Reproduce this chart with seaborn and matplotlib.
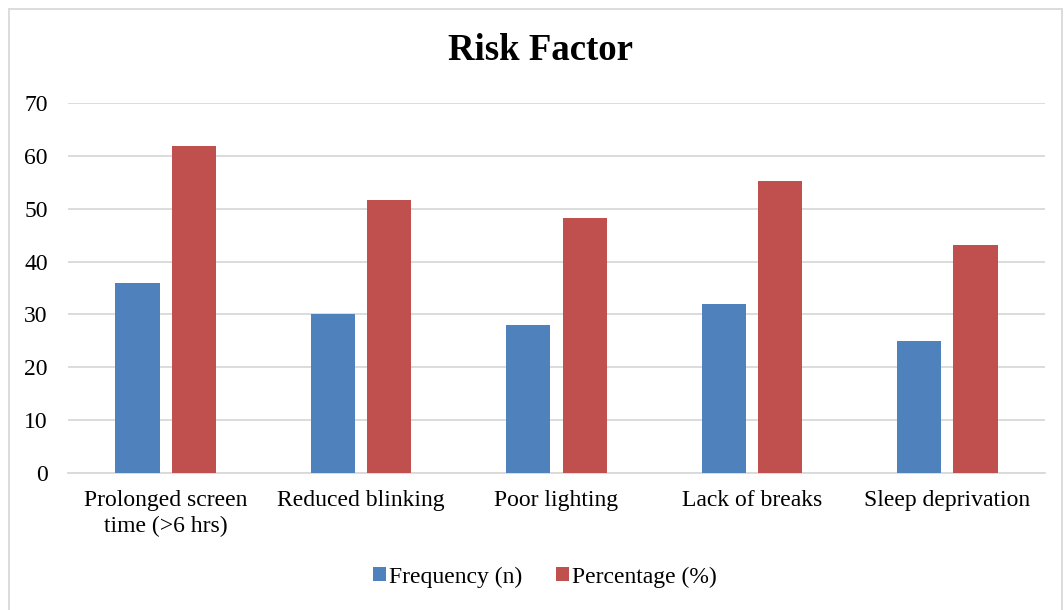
import matplotlib
matplotlib.use("Agg")
import matplotlib.pyplot as plt
from matplotlib.patches import Rectangle
import seaborn as sns
import pandas as pd

categories = ["Prolonged screen\ntime (>6 hrs)", "Reduced blinking", "Poor lighting",
              "Lack of breaks", "Sleep deprivation"]
frequency = [36, 30, 28, 32, 25]
percentage = [62, 51.7, 48.3, 55.2, 43.1]
series_names = ["Frequency (n)", "Percentage (%)"]
y_ticks = [0, 10, 20, 30, 40, 50, 60, 70]

df = pd.DataFrame({
    "Risk": categories * 2,
    "Value": frequency + percentage,
    "Series": [series_names[0]] * len(categories) + [series_names[1]] * len(categories),
})

sns.set_theme(style="white")
plt.rcParams["font.family"] = ["Liberation Serif", "DejaVu Serif"]
plt.rcParams["text.color"] = "black"

fig = plt.figure(figsize=(10.64, 6.10), dpi=100)
ax = fig.add_axes([68 / 1064, 1 - 472.7 / 610, (1045 - 68) / 1064, (472.7 - 103.3) / 610])

palette = {series_names[0]: "#4F81BD", series_names[1]: "#C0504D"}
sns.barplot(data=df, x="Risk", y="Value", hue="Series", palette=palette,
            width=0.576, gap=0.214, ax=ax, saturation=1, legend=True,
            edgecolor="none", zorder=3)

ax.set_ylim(0, 70)
ax.set_yticks(y_ticks)
ax.set_xlim(-0.5, len(categories) - 0.5)
ax.yaxis.grid(True, color="#D9D9D9", linewidth=1.3, zorder=0)
ax.xaxis.grid(False)
for s in ["top", "right", "left"]:
    ax.spines[s].set_visible(False)
ax.spines["bottom"].set_color("#D9D9D9")
ax.spines["bottom"].set_linewidth(1.3)
ax.tick_params(axis="both", length=0, labelsize=17, colors="black")
ax.tick_params(axis="x", pad=12.5)
ax.tick_params(axis="y", pad=14.5)
ax.set_xlabel("")
ax.set_ylabel("")
for lbl in ax.get_xticklabels():
    lbl.set_linespacing(1.3)

fig.text(540 / 1064, 1 - 50 / 610, "Risk Factor", ha="center", va="center",
         fontsize=26.5, fontweight="bold", color="black")

handles, labels = ax.get_legend_handles_labels()
leg = ax.legend(handles, labels, loc="center", bbox_to_anchor=(545 / 1064, 1 - 577 / 610),
                bbox_transform=fig.transFigure, ncol=2, frameon=False, fontsize=17,
                handlelength=0.55, handleheight=0.55, handletextpad=0.15, columnspacing=1.4)
for t in leg.get_texts():
    t.set_color("black")

# outer chart frame
fig.patches.append(Rectangle((9 / 1064, -0.01), 1053 / 1064, 1 - 9 / 610 + 0.01,
                             transform=fig.transFigure, fill=False,
                             edgecolor="#D9D9D9", linewidth=1.3))

fig.savefig("out.png", dpi=100)
